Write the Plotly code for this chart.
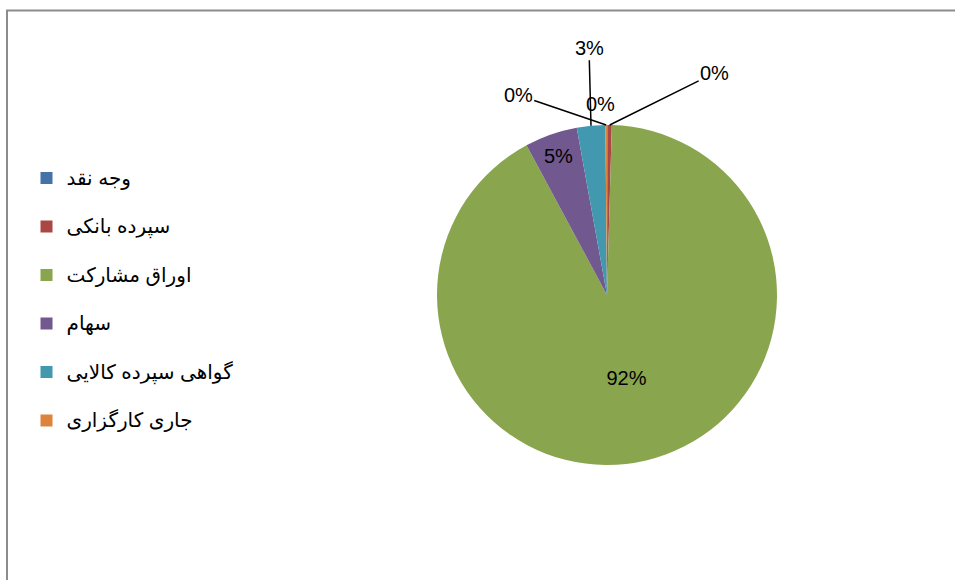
import numpy as np
import plotly.graph_objects as go

labels = ["وجه نقد", "سپرده بانکی", "اوراق مشارکت", "سهام", "گواهی سپرده کالایی", "جاری کارگزاری"]
values = [0.05, 0.4, 91.7, 5.0, 2.7, 0.15]
colors = ["#4572A7", "#AA4643", "#89A54E", "#71588F", "#4198AF", "#DB843D"]
inside = [False, False, True, True, False, False]

W, H = 955, 580
cx, r, top = 607, 170, 125
cy = top + r

FONT = "Liberation Sans, Arial, sans-serif"

fig = go.Figure()
fig.add_trace(go.Pie(
    labels=[f'<span style="font-size:20px">{l}</span><br> ' for l in labels],
    values=values,
    sort=False,
    direction="clockwise",
    rotation=0,
    marker=dict(colors=colors, line=dict(width=0)),
    texttemplate=["%{percent:.0%}" if f else "" for f in inside],
    textposition=["inside" if f else "none" for f in inside],
    insidetextorientation="horizontal",
    insidetextfont=dict(family=FONT, size=20, color="#000000"),
    domain=dict(x=[(cx - r) / W, (cx + r) / W], y=[1 - (cy + r) / H, 1 - top / H]),
    hoverinfo="percent",
))

# label positions for the small slices (pixel offsets of text from slice edge)
total = sum(values)
cum = np.cumsum([0] + values[:-1])
offsets = {1: (105, -52), 4: (-2, -78), 5: (-88, -30)}
textpos_free = {0: (600, 104)}
annotations = []
for i, v in enumerate(values):
    if inside[i]:
        continue
    pct = f"{round(100 * v / total):.0f}%"
    theta = 2 * np.pi * (cum[i] + v / 2) / total
    px = cx + r * np.sin(theta)
    py = cy - r * np.cos(theta)
    if i in textpos_free:
        tx, ty = textpos_free[i]
        annotations.append(dict(x=tx / W, y=1 - ty / H, xref="paper", yref="paper", text=pct,
                                xanchor="center", yanchor="middle", showarrow=False,
                                font=dict(family=FONT, size=20, color="#000")))
    else:
        ax, ay = offsets[i]
        annotations.append(dict(x=px / W, y=1 - py / H, xref="paper", yref="paper", text=pct,
                                showarrow=True, arrowhead=0, arrowwidth=1.5, arrowcolor="#000",
                                ax=ax, ay=ay, standoff=0,
                                font=dict(family=FONT, size=20, color="#000")))

fig.update_layout(
    width=W, height=H,
    margin=dict(l=0, r=0, t=0, b=0),
    paper_bgcolor="white",
    plot_bgcolor="white",
    showlegend=True,
    legend=dict(
        x=26.5 / W, y=1 - 160 / H, xanchor="left", yanchor="top",
        valign="top",
        font=dict(family="Liberation Sans, DejaVu Sans, sans-serif", size=17.5, color="#000"),
        bgcolor="rgba(0,0,0,0)",
    ),
    annotations=annotations,
    shapes=[dict(type="rect", xref="paper", yref="paper",
                 x0=7 / W, x1=1.05, y0=-0.05, y1=1 - 10.5 / H,
                 line=dict(color="#8c8c8c", width=2), fillcolor="rgba(0,0,0,0)", layer="below")],
)

fig.write_html("out.html", config={"displayModeBar": False},
               post_script="document.body.style.margin='0px';")
